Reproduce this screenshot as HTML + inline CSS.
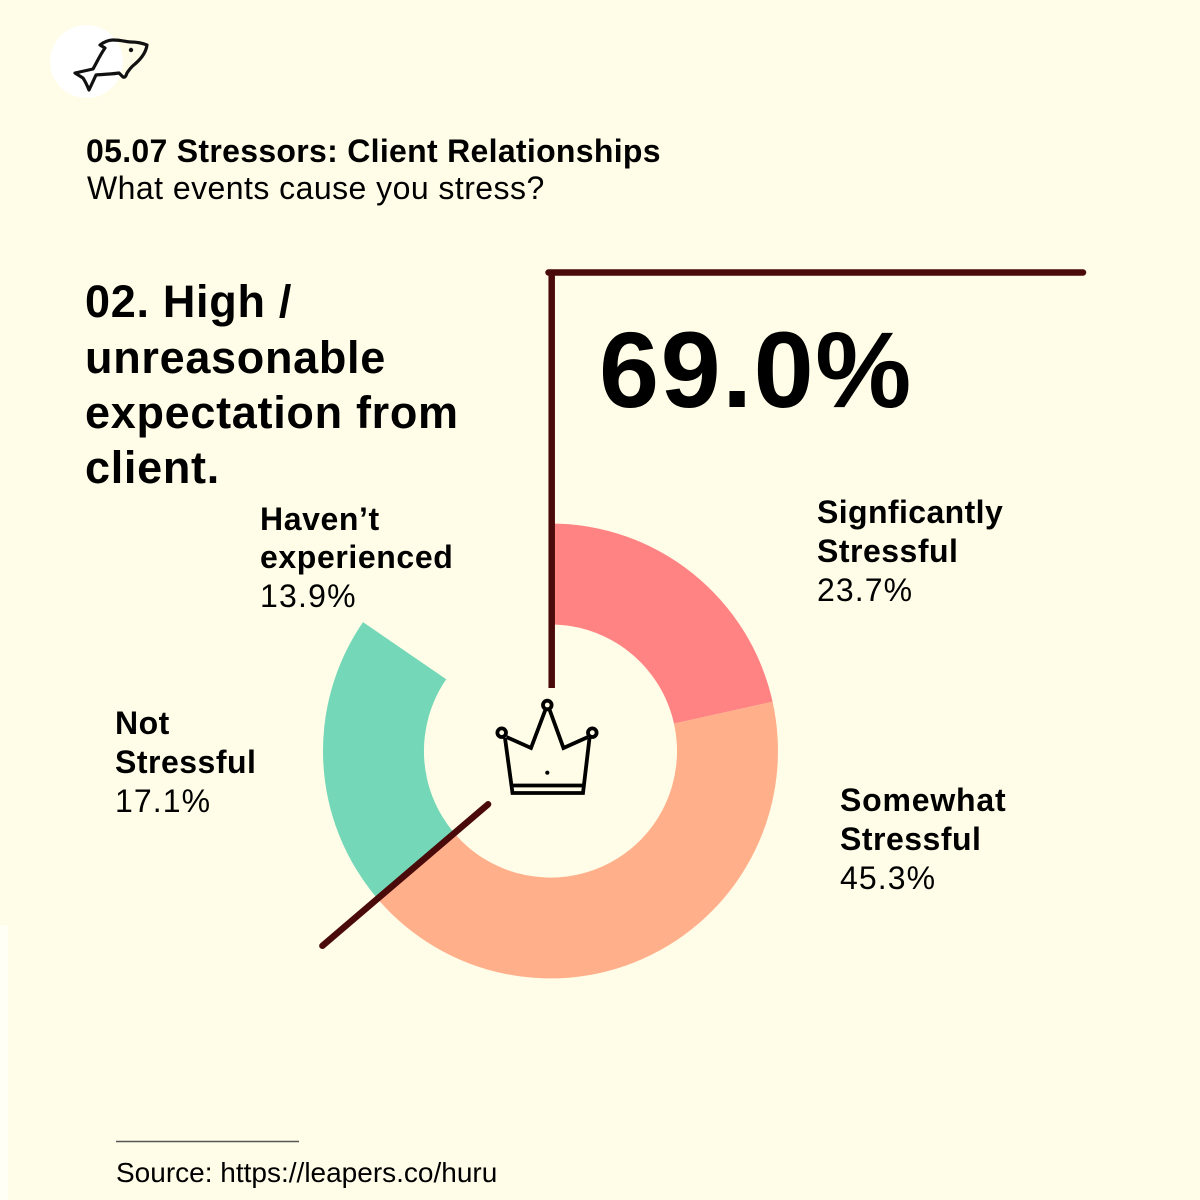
<!DOCTYPE html>
<html>
<head>
<meta charset="utf-8">
<style>
  html, body { margin: 0; padding: 0; background: #FFFDE8; }
  body { width: 1200px; height: 1200px; overflow: hidden; }
  svg { display: block; }
  text { font-family: "Liberation Sans", Arial, Helvetica, sans-serif; fill: #000; }
  .b { font-weight: bold; }
</style>
</head>
<body>
<svg width="1200" height="1200" viewBox="0 0 1200 1200" xmlns="http://www.w3.org/2000/svg">
  <rect x="0" y="0" width="1200" height="1200" fill="#FFFDE8"/>
  <rect x="0" y="925" width="8" height="275" fill="#FFFFF6"/>

  <!-- logo -->
  <circle cx="86.5" cy="61.5" r="36.5" fill="#FFFFFF"/>
  <path d="M75,73 L93,69 C97,62 100,55 105,48 L100,45 C104,42 108,40 113,40 C122,40 126,42 131,42 C137,42 142,43 147,45 C146,52 142,58 135,64 C131,67 129,70 127,73 C126,76 125,78 123,77 L119,73 C113,74 106,74 96,75 L89,90 C87,85 85,81 83,78 Z"
        fill="none" stroke="#111" stroke-width="3.2" stroke-linejoin="round"/>
  <circle cx="131" cy="50" r="2.2" fill="#111"/>

  <!-- title -->
  <text class="b" x="86" y="162" font-size="32" letter-spacing="0.3">05.07 Stressors: Client Relationships</text>
  <text x="87" y="199" font-size="32" letter-spacing="0.45">What events cause you stress?</text>

  <!-- heading -->
  <text class="b" font-size="45" letter-spacing="0.7">
    <tspan x="85" y="317">02. High /</tspan>
    <tspan x="85" y="373">unreasonable</tspan>
    <tspan x="85" y="428">expectation from</tspan>
    <tspan x="85" y="483">client.</tspan>
  </text>

  <!-- big number -->
  <text class="b" x="599" y="407" font-size="108" letter-spacing="1.5">69.0%</text>

  <!-- donut -->
  <path d="M550.5,523.5 A227.5,227.5 0 0 1 772.6,701.8 L674.0,723.6 A126.5,126.5 0 0 0 550.5,624.5 Z" fill="#FF8383"/>
  <path d="M772.6,701.8 A227.5,227.5 0 0 1 377.5,898.7 L454.3,833.2 A126.5,126.5 0 0 0 674.0,723.6 Z" fill="#FFB08B"/>
  <path d="M377.5,898.7 A227.5,227.5 0 0 1 363.0,622.1 L446.2,679.3 A126.5,126.5 0 0 0 454.3,833.2 Z" fill="#74D7B7"/>

  <!-- dark leader lines -->
  <line x1="551.7" y1="688" x2="551.7" y2="269.5" stroke="#4A0A0A" stroke-width="6.5"/>
  <line x1="548.5" y1="272.5" x2="1083" y2="272.5" stroke="#4A0A0A" stroke-width="6.5" stroke-linecap="round"/>
  <line x1="488.1" y1="804.3" x2="322.4" y2="945.8" stroke="#4A0A0A" stroke-width="6.5" stroke-linecap="round"/>

  <!-- crown -->
  <g fill="none" stroke="#000" stroke-width="3.8" stroke-linejoin="miter">
    <path d="M505,738 L512.5,793 L583,793 L589.5,738"/>
    <path d="M506.5,737 L531,748 L545.5,709.5"/>
    <path d="M549.5,709.5 L563.5,748 L588,737"/>
    <line x1="512" y1="785.5" x2="583.5" y2="785.5"/>
    <circle cx="547.3" cy="705" r="4.3"/>
    <circle cx="501.7" cy="732.7" r="4.3"/>
    <circle cx="592.3" cy="732.7" r="4.3"/>
  </g>
  <circle cx="547.3" cy="772.7" r="2.1" fill="#000"/>

  <!-- labels -->
  <text font-size="32">
    <tspan class="b" x="817" y="523" letter-spacing="0.4">Signficantly</tspan>
    <tspan class="b" x="817" y="562" letter-spacing="0.5">Stressful</tspan>
    <tspan x="817" y="601" letter-spacing="1.1">23.7%</tspan>
  </text>
  <text font-size="32">
    <tspan class="b" x="840" y="811" letter-spacing="0.8">Somewhat</tspan>
    <tspan class="b" x="840" y="850" letter-spacing="0.5">Stressful</tspan>
    <tspan x="840" y="889" letter-spacing="1.1">45.3%</tspan>
  </text>
  <text font-size="32">
    <tspan class="b" x="260" y="530" letter-spacing="0.6">Haven’t</tspan>
    <tspan class="b" x="260" y="568" letter-spacing="0.6">experienced</tspan>
    <tspan x="260" y="607" letter-spacing="1.2">13.9%</tspan>
  </text>
  <text font-size="32">
    <tspan class="b" x="115" y="734" letter-spacing="0.5">Not</tspan>
    <tspan class="b" x="115" y="773" letter-spacing="0.5">Stressful</tspan>
    <tspan x="115" y="812" letter-spacing="1.1">17.1%</tspan>
  </text>

  <!-- source -->
  <line x1="116" y1="1141.5" x2="299" y2="1141.5" stroke="#555" stroke-width="1.6"/>
  <text x="116" y="1182" font-size="28">Source: https://leapers.co/huru</text>
</svg>
</body>
</html>
